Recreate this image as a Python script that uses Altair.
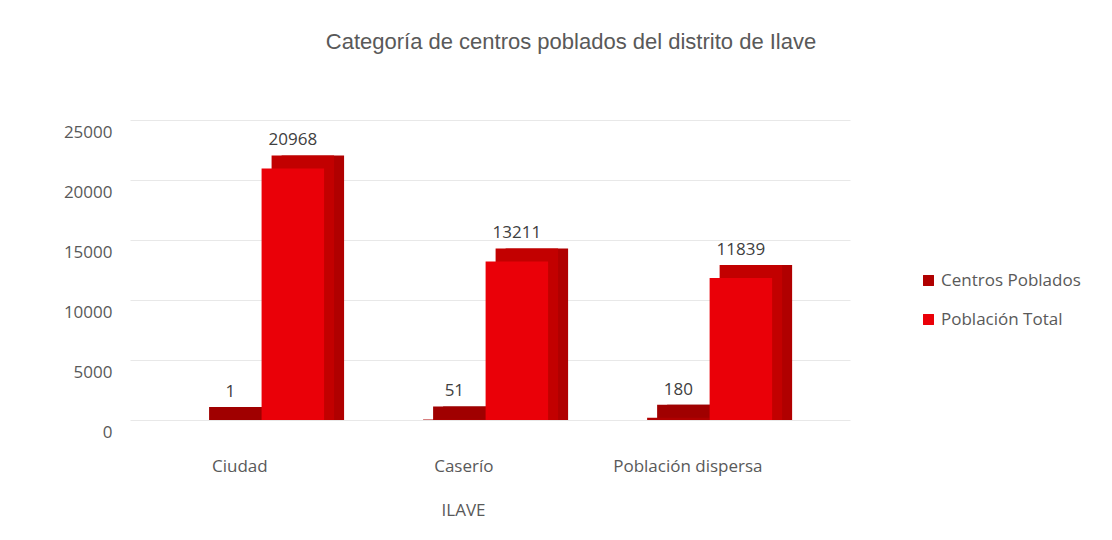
import altair as alt
import pandas as pd

categories = ["Ciudad", "Caserío", "Población dispersa"]
series = ["Centros Poblados", "Población Total"]
centros = [1, 51, 180]
poblacion = [20968, 13211, 11839]

rows = []
for i, c in enumerate(categories):
    rows.append({"cat": c, "serie": series[0], "valor": centros[i]})
    rows.append({"cat": c, "serie": series[1], "valor": poblacion[i]})
df = pd.DataFrame(rows)

front_colors = ["#B00000", "#EA0008"]
top_colors = ["#A00000", "#C20000"]
side_colors = ["#8C0000", "#B00000"]
font = "Open Sans"

x = alt.X("cat:N", sort=categories, title="ILAVE",
          scale=alt.Scale(paddingInner=0.44, paddingOuter=0.327, align=0.335),
          axis=alt.Axis(labelAngle=0, domain=False, ticks=False, labelPadding=38,
                        labelOffset=-2, labelFontSize=17, labelColor="#595959",
                        titleFontSize=17, titleColor="#595959", titleFontWeight="normal",
                        titlePadding=28, titleX=333, labelFont=font, titleFont=font, grid=False))
y = alt.Y("valor:Q", title=None,
          scale=alt.Scale(domain=[0, 25000], nice=False),
          axis=alt.Axis(values=[0, 5000, 10000, 15000, 20000, 25000], domain=False, ticks=False,
                        labelPadding=18, labelOffset=12, labelFontSize=17, labelColor="#595959",
                        labelFont=font, gridColor="#e8e8e8", format="d"))
xo_front = alt.XOffset("serie:N", sort=series, scale=alt.Scale(domain=series, range=[20, 145]))
xo_mid = alt.XOffset("serie:N", sort=series, scale=alt.Scale(domain=series, range=[30, 155]))
xo_back = alt.XOffset("serie:N", sort=series, scale=alt.Scale(domain=series, range=[40, 165]))

base = alt.Chart(df)

side = base.mark_bar(yOffset=-13).encode(
    x=x, xOffset=xo_back, y=y, y2=alt.datum(0),
    color=alt.Color("serie:N", sort=series, scale=alt.Scale(domain=series, range=side_colors), legend=None),
)
top = base.mark_bar(yOffset=-13).encode(
    x=x, xOffset=xo_mid, y=y, y2=alt.datum(0),
    color=alt.Color("serie:N", sort=series, scale=alt.Scale(domain=series, range=top_colors), legend=None),
)

front = base.mark_bar().encode(
    x=x, xOffset=xo_front, y=y,
    color=alt.Color("serie:N", sort=series, title=None,
                    scale=alt.Scale(domain=series, range=front_colors),
                    legend=alt.Legend(orient="none", legendX=790, legendY=152, symbolType="square",
                                      symbolSize=120, symbolStrokeWidth=0, labelFontSize=17,
                                      labelColor="#595959", labelFont=font, rowPadding=21,
                                      symbolOpacity=1)),
)

labels = base.mark_text(dy=-28, fontSize=17, color="#404040", font=font).encode(
    x=x, xOffset=xo_front, y=y, text=alt.Text("valor:Q", format="d"),
)

chart = (side + top + front + labels).resolve_scale(color="independent", xOffset="independent").properties(
    width=720, height=300,
    title=alt.TitleParams("Categoría de centros poblados del distrito de Ilave", fontSize=22,
                          font="Liberation Sans", fontWeight="normal", color="#595959",
                          offset=66, dx=81),
    padding={"left": 63, "top": 31, "right": 5, "bottom": 5},
    background="white",
).configure_view(stroke=None)

chart.save("out.html", embed_options={"renderer": "svg", "actions": False})
